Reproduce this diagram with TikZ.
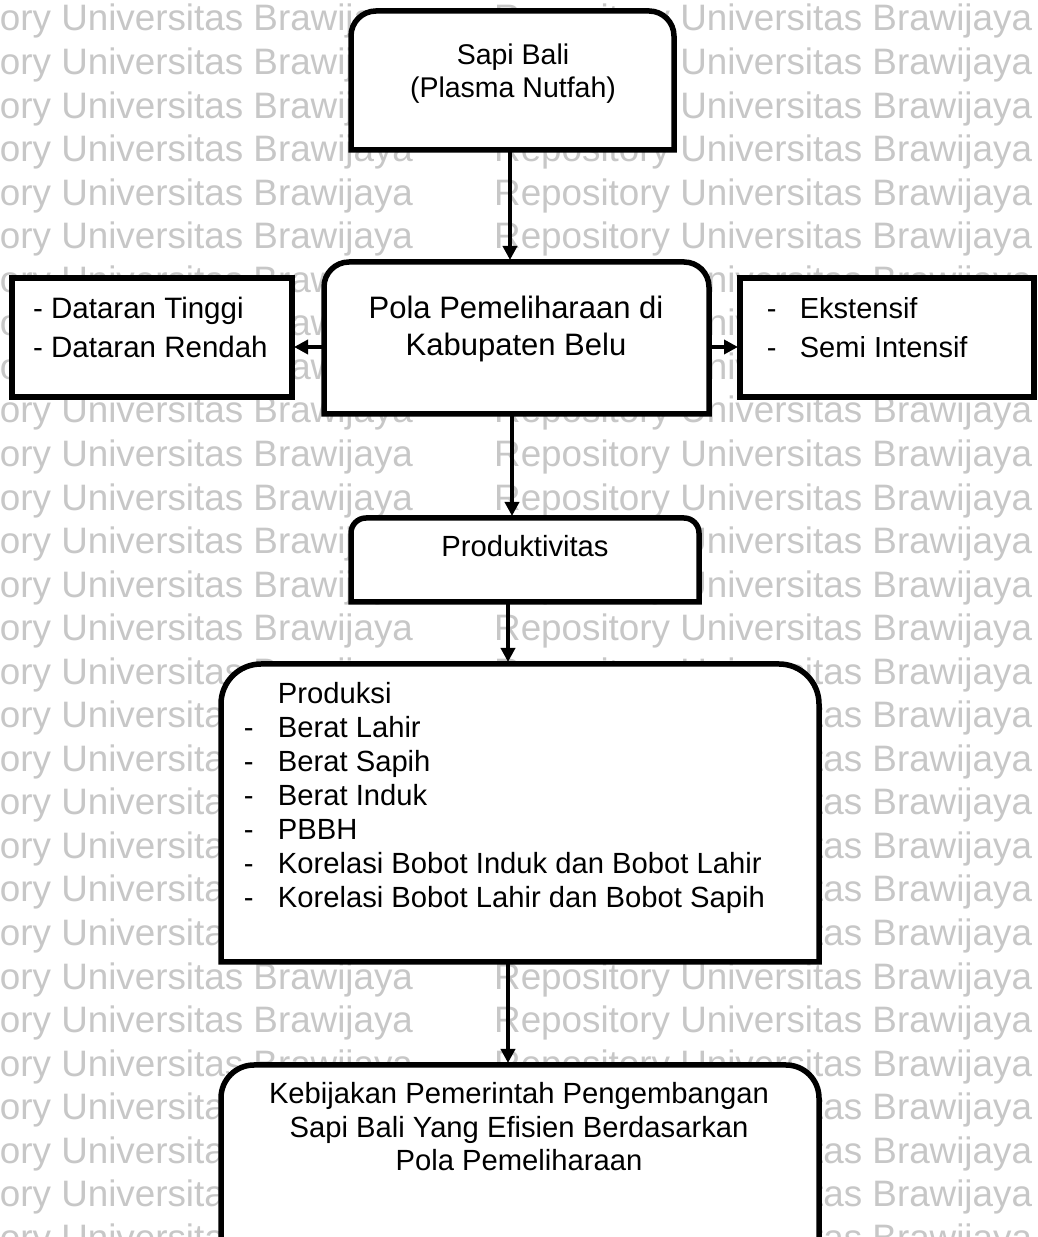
\documentclass[tikz,border=0pt]{standalone}
\usepackage{fontspec}
\setmainfont{Liberation Sans}
\usetikzlibrary{arrows.meta}
\newcommand{\rtbox}[2]{%
  \draw[boxline] (#1.south west) -- ([yshift=-#2]#1.north west)
    arc[start angle=180,end angle=90,radius=#2] -- ([xshift=-#2]#1.north east)
    arc[start angle=90,end angle=0,radius=#2] -- (#1.south east) -- cycle;}
\begin{document}
\begin{tikzpicture}[x=1pt,y=1pt,
  wm/.style={anchor=base west, inner sep=0pt, text=black!22, font=\fontsize{36.8}{40}\selectfont},
  boxline/.style={line width=5.5pt, fill=white, draw=black},
  boxarea/.style={draw=none, inner sep=0pt, outer sep=0pt},
  arr/.style={line width=4pt, -{Triangle[length=14pt,width=14pt]}, shorten >=2pt},
  txt/.style={inner sep=0pt, font=\fontsize{29.2}{34}\selectfont}
]
\useasboundingbox (0,0) rectangle (1038,1237);
\clip (0,0) rectangle (1038,1237);
\fill[white] (0,0) rectangle (1038,1237);
% watermark
\foreach \k in {0,...,29} {
  \node[wm] (wmL\k) at (-125, {1237-31-43.55*(\k-1)}) {Repository Universitas Brawijaya};
  \node[wm] (wmR\k) at (494, {1237-31-43.55*(\k-1)}) {Repository Universitas Brawijaya};
}
% box areas
\node[boxarea, minimum width=323pt, minimum height=139pt] (sapi) at (512.5,1156.5) {};
\node[boxarea, minimum width=385pt, minimum height=152pt] (pola) at (516.5,899) {};
\node[boxarea, minimum width=280pt, minimum height=119pt] (dat) at (152,899.5) {};
\node[boxarea, minimum width=294pt, minimum height=119pt] (ext) at (887,899.5) {};
\node[boxarea, minimum width=348pt, minimum height=84pt] (prod) at (525,677) {};
\node[boxarea, minimum width=598pt, minimum height=298pt] (prks) at (520,424) {};
\node[boxarea, minimum width=598pt, minimum height=192pt] (keb) at (520,76) {};
% outlines
\rtbox{sapi}{25pt}
\rtbox{pola}{25pt}
\draw[boxline] (dat.south west) rectangle (dat.north east);
\draw[boxline] (ext.south west) rectangle (ext.north east);
\rtbox{prod}{15pt}
\rtbox{prks}{40pt}
\rtbox{keb}{33pt}
% connectors
\draw[arr] (510,0 |- sapi.south) -- (510,0 |- pola.north);
\draw[arr] (pola.west |- 0,890) -- (dat.east |- 0,890);
\draw[arr] (pola.east |- 0,890) -- (ext.west |- 0,890);
\draw[arr] (512,0 |- pola.south) -- (512,0 |- prod.north);
\draw[arr] (508,0 |- prod.south) -- (508,0 |- prks.north);
\draw[arr] (508,0 |- prks.south) -- (508,0 |- keb.north);
% texts
\node[txt, anchor=north, align=center, font=\fontsize{28.5}{33}\selectfont] (tsapi) at (513,1193.8) {Sapi Bali\\(Plasma Nutfah)};
\node[txt, anchor=north, align=center, font=\fontsize{31}{37}\selectfont] (tpola) at (516,941) {Pola Pemeliharaan di\\Kabupaten Belu};
\node[txt, anchor=north west, align=left, font=\fontsize{29.5}{39}\selectfont] (tdat) at (33,940) {- Dataran Tinggi\\- Dataran Rendah};
\node[txt, anchor=north west, align=left, font=\fontsize{29}{39}\selectfont] (text) at (766.7,940) {\makebox[33pt][l]{-}Ekstensif\\\makebox[33pt][l]{-}Semi Intensif};
\node[txt, anchor=base] (tprod) at (525,680) {Produktivitas};
\node[txt, anchor=north west, align=left] (tprks) at (243.7,554.8) {\makebox[34pt][l]{}Produksi\\
\makebox[34pt][l]{-}Berat Lahir\\
\makebox[34pt][l]{-}Berat Sapih\\
\makebox[34pt][l]{-}Berat Induk\\
\makebox[34pt][l]{-}PBBH\\
\makebox[34pt][l]{-}Korelasi Bobot Induk dan Bobot Lahir\\
\makebox[34pt][l]{-}Korelasi Bobot Lahir dan Bobot Sapih};
\node[txt, anchor=north, align=center, font=\fontsize{29.2}{33.5}\selectfont] (tkeb) at (519,154.8) {Kebijakan Pemerintah Pengembangan\\Sapi Bali Yang Efisien Berdasarkan\\Pola Pemeliharaan};
\end{tikzpicture}
\end{document}
